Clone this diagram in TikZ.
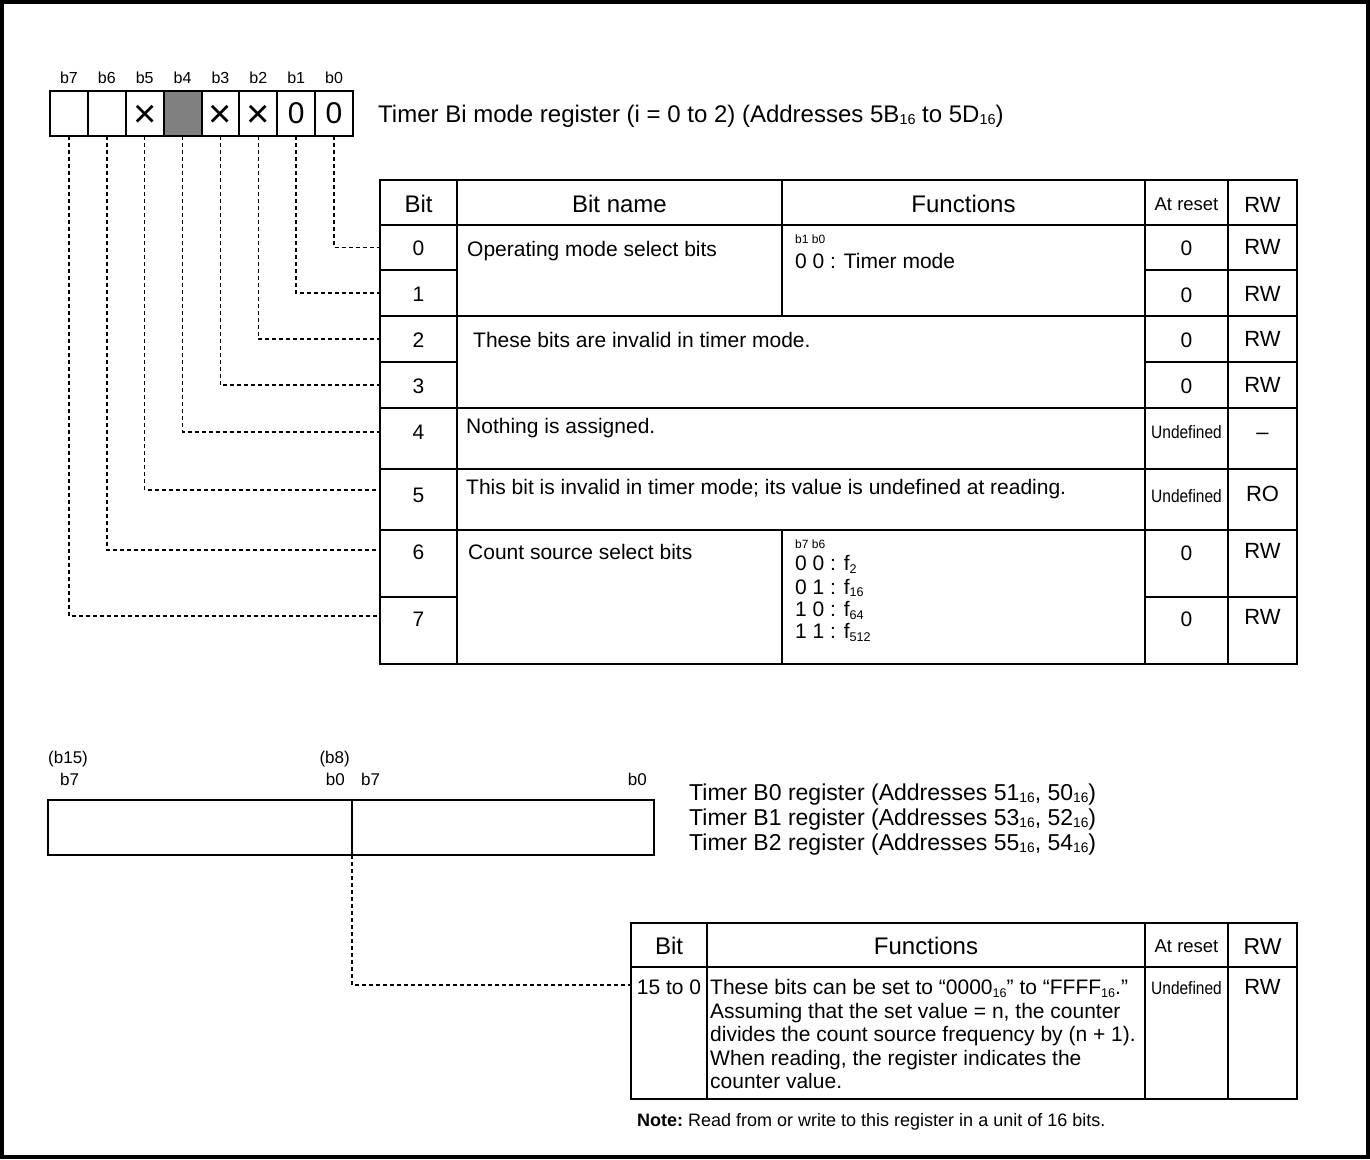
\documentclass[tikz,border=0pt]{standalone}
\usepackage{fontspec}
\setmainfont{Liberation Sans}
\usepackage{graphicx}
\newcommand\lo[1]{\raisebox{-0.12em}{\scalebox{0.6}{#1}}}
\newcommand\cnd[1]{\scalebox{0.86}[1]{#1}}
\newcommand\xm{\raisebox{-3pt}[\height][0pt]{×}}
\newcommand\cell[5]{\node[cellbox, minimum width={(#4-#2)*1pt}, minimum height={(#5-#3)*1pt}] (#1) at (#2,#3) {};}
\definecolor{regfill}{HTML}{808080}
\begin{document}
\begin{tikzpicture}[x=1pt,y=-1pt,
  cellbox/.style={draw, line width=2pt, inner sep=0pt, outer sep=0pt, anchor=north west},
  regcell/.style={cellbox, minimum width=37.875pt, minimum height=45pt},
  lead/.style={line width=1.5pt, dash pattern=on 4pt off 3pt},
  tb/.style={inner sep=0pt, anchor=base, font=\fontsize{21}{24}\selectfont},
  tl/.style={inner sep=0pt, anchor=base west, font=\fontsize{21}{24}\selectfont},
  th/.style={inner sep=0pt, anchor=base, font=\fontsize{24}{28}\selectfont},
  trw/.style={inner sep=0pt, anchor=base, font=\fontsize{22}{26}\selectfont},
  tsm/.style={inner sep=0pt, anchor=base west, font=\fontsize{12}{14}\selectfont},
  tund/.style={inner sep=0pt, anchor=base, font=\fontsize{18}{20}\selectfont},
  tlab/.style={inner sep=0pt, anchor=base, font=\fontsize{16}{19}\selectfont},
  tbig/.style={inner sep=0pt, anchor=base west, font=\fontsize{24}{28}\selectfont},
]
\useasboundingbox (0,0) rectangle (1370,1159);
\draw[line width=4pt] (2,2) rectangle (1368,1157);

% ---------- top register ----------
\node[regcell] (r7) at (50,91) {};
\node[regcell] (r6) at (87.875,91) {};
\node[regcell, font=\fontsize{40}{42}\selectfont] (r5) at (125.75,91) {\xm};
\node[regcell, fill=regfill] (r4) at (163.625,91) {};
\node[regcell, font=\fontsize{40}{42}\selectfont] (r3) at (201.5,91) {\xm};
\node[regcell, font=\fontsize{40}{42}\selectfont] (r2) at (239.375,91) {\xm};
\node[regcell, font=\fontsize{30}{32}\selectfont] (r1) at (277.25,91) {0};
\node[regcell, font=\fontsize{30}{32}\selectfont] (r0) at (315.125,91) {0};
\foreach \i in {0,...,7}{
  \pgfmathsetmacro\xx{50+(7-\i)*37.875+18.94}
  \node[tlab] (lb\i) at (\xx,83) {b\i};
}
\node[tbig] (title1) at (378,122) {Timer Bi mode register (i = 0 to 2) (Addresses 5B\lo{16} to 5D\lo{16})};

% ---------- top table ----------
\cell{hBit}{380}{180}{457}{225}
\cell{hName}{457}{180}{782}{225}
\cell{hFunc}{782}{180}{1145}{225}
\cell{hRst}{1145}{180}{1228}{225}
\cell{hRW}{1228}{180}{1297}{225}
\cell{bit0}{380}{225}{457}{270}
\cell{bit1}{380}{270}{457}{316}
\cell{bit2}{380}{316}{457}{362}
\cell{bit3}{380}{362}{457}{408}
\cell{bit4}{380}{408}{457}{469}
\cell{bit5}{380}{469}{457}{530}
\cell{bit6}{380}{530}{457}{597}
\cell{bit7}{380}{597}{457}{664}
\cell{n01}{457}{225}{782}{316}
\cell{f01}{782}{225}{1145}{316}
\cell{n23}{457}{316}{1145}{408}
\cell{n4}{457}{408}{1145}{469}
\cell{n5}{457}{469}{1145}{530}
\cell{n67}{457}{530}{782}{664}
\cell{f67}{782}{530}{1145}{664}
\cell{s0}{1145}{225}{1228}{270}
\cell{s1}{1145}{270}{1228}{316}
\cell{s2}{1145}{316}{1228}{362}
\cell{s3}{1145}{362}{1228}{408}
\cell{s4}{1145}{408}{1228}{469}
\cell{s5}{1145}{469}{1228}{530}
\cell{s6}{1145}{530}{1228}{597}
\cell{s7}{1145}{597}{1228}{664}
\cell{w0}{1228}{225}{1297}{270}
\cell{w1}{1228}{270}{1297}{316}
\cell{w2}{1228}{316}{1297}{362}
\cell{w3}{1228}{362}{1297}{408}
\cell{w4}{1228}{408}{1297}{469}
\cell{w5}{1228}{469}{1297}{530}
\cell{w6}{1228}{530}{1297}{597}
\cell{w7}{1228}{597}{1297}{664}

% header texts
\node[th] at (418.5,212) {Bit};
\node[th] at (619.5,212) {Bit name};
\node[th] at (963.5,212) {Functions};
\node[tund, font=\fontsize{18.5}{20}\selectfont] at (1186.5,210.5) {At reset};
\node[trw] at (1262.5,212) {RW};

% bit numbers
\node[tb] at (418.5,255.5) {0};
\node[tb] at (418.5,301.5) {1};
\node[tb] at (418.5,347) {2};
\node[tb] at (418.5,393) {3};
\node[tb] at (418.5,439.5) {4};
\node[tb] at (418.5,502) {5};
\node[tb] at (418.5,559.5) {6};
\node[tb] at (418.5,626.5) {7};

% names / functions
\node[tl] at (467,256) {Operating mode select bits};
\node[tsm] at (795,243) {b1 b0};
\node[tl] at (795,268.5) {0 0 : Timer mode};
\node[tl] at (473,347) {These bits are invalid in timer mode.};
\node[tl] at (466,433) {Nothing is assigned.};
\node[tl] at (466,494) {This bit is invalid in timer mode; its value is undefined at reading.};
\node[tl] at (468,559) {Count source select bits};
\node[tsm] at (795,548) {b7 b6};
\node[tl] at (795,570.5) {0 0 : f\lo{2}};
\node[tl] at (795,594) {0 1 : f\lo{16}};
\node[tl] at (795,616.5) {1 0 : f\lo{64}};
\node[tl] at (795,638.5) {1 1 : f\lo{512}};

% at reset
\node[tb] at (1186.5,255.5) {0};
\node[tb] at (1186.5,302) {0};
\node[tb] at (1186.5,347) {0};
\node[tb] at (1186.5,393) {0};
\node[tund] at (1186.5,438) {\cnd{Undefined}};
\node[tund] at (1186.5,502) {\cnd{Undefined}};
\node[tb] at (1186.5,560.5) {0};
\node[tb] at (1186.5,626.5) {0};

% RW
\node[trw] at (1262.5,254) {RW};
\node[trw] at (1262.5,301) {RW};
\node[trw] at (1262.5,346) {RW};
\node[trw] at (1262.5,392) {RW};
\node[trw] at (1262.5,439) {–};
\node[trw] at (1262.5,501) {RO};
\node[trw] at (1262.5,558) {RW};
\node[trw] at (1262.5,624) {RW};

% leaders
\draw[lead] (r0.south) |- (bit0.west);
\draw[lead] (r1.south) |- (bit1.west);
\draw[lead] (r2.south) |- (bit2.west);
\draw[lead] (r3.south) |- (bit3.west);
\draw[lead] (r4.south) |- ([yshift=6.5pt]bit4.west);
\draw[lead] (r5.south) |- ([yshift=9.5pt]bit5.west);
\draw[lead] (r6.south) |- ([yshift=13.5pt]bit6.west);
\draw[lead] (r7.south) |- ([yshift=14.5pt]bit7.west);

% ---------- bottom register ----------
\cell{regH}{48}{800}{352}{855}
\cell{regL}{352}{800}{654}{855}
\node[tlab, font=\fontsize{17}{19}\selectfont, anchor=base west] at (48,763) {(b15)};
\node[tlab, font=\fontsize{17}{19}\selectfont, anchor=base west] at (60,785) {b7};
\node[tlab, font=\fontsize{17}{19}\selectfont, anchor=base east] at (350,763) {(b8)};
\node[tlab, font=\fontsize{17}{19}\selectfont, anchor=base east] at (345,785) {b0};
\node[tlab, font=\fontsize{17}{19}\selectfont, anchor=base west] at (361,785) {b7};
\node[tlab, font=\fontsize{17}{19}\selectfont, anchor=base east] at (647,785) {b0};
\node[tbig, font=\fontsize{23}{26}\selectfont] at (689,800) {Timer B0 register (Addresses 51\lo{16}, 50\lo{16})};
\node[tbig, font=\fontsize{23}{26}\selectfont] at (689,825) {Timer B1 register (Addresses 53\lo{16}, 52\lo{16})};
\node[tbig, font=\fontsize{23}{26}\selectfont] at (689,850) {Timer B2 register (Addresses 55\lo{16}, 54\lo{16})};

% ---------- bottom table ----------
\cell{bhBit}{631}{923}{707}{967}
\cell{bhFunc}{707}{923}{1145}{967}
\cell{bhRst}{1145}{923}{1228}{967}
\cell{bhRW}{1228}{923}{1297}{967}
\cell{bBit}{631}{967}{707}{1099}
\cell{bFunc}{707}{967}{1145}{1099}
\cell{bRst}{1145}{967}{1228}{1099}
\cell{bRW}{1228}{967}{1297}{1099}
\node[th] at (669,954.6) {Bit};
\node[th] at (926,954.6) {Functions};
\node[tund, font=\fontsize{18.5}{20}\selectfont] at (1186.5,952.5) {At reset};
\node[trw, font=\fontsize{23}{26}\selectfont] at (1262.5,954) {RW};
\node[tb] at (669,994.5) {15 to 0};
\node[inner sep=0pt, anchor=north west, align=left, font=\fontsize{21}{23.5}\selectfont] at (710,979.2)
  {These bits can be set to “0000\lo{16}” to “FFFF\lo{16}.”\\
   Assuming that the set value = n, the counter\\
   divides the count source frequency by (n + 1).\\
   When reading, the register indicates the\\
   counter value.};
\node[tund] at (1186.5,994) {\cnd{Undefined}};
\node[trw] at (1262.5,994) {RW};
\draw[lead] (regH.south east) |- ([yshift=-18pt]bBit.north west);
\node[inner sep=0pt, anchor=base west, font=\fontsize{18}{20}\selectfont] at (637,1126) {\textbf{Note:}\hspace{5pt}Read from or write to this register in a unit of 16 bits.};
\end{tikzpicture}
\end{document}
